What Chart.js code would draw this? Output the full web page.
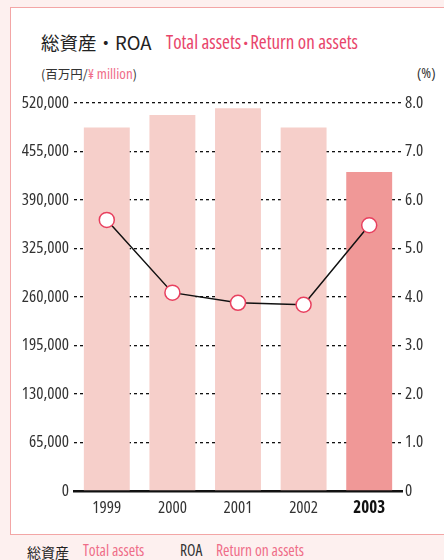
<!DOCTYPE html>
<html><head><meta charset="utf-8">
<script src="https://cdn.jsdelivr.net/npm/chart.js@4/dist/chart.umd.min.js"></script>
<style>
html,body{margin:0;padding:0;}
body{width:444px;height:560px;background:#fdf0ef;position:relative;overflow:hidden;font-family:"Noto Sans CJK JP","Noto Sans",sans-serif;}
#panel{position:absolute;left:10px;top:7px;width:440px;height:526px;background:#fff;border:1.5px solid #f3a6a6;border-right:none;}
.t{position:absolute;white-space:nowrap;}
.nar{font-family:"Open Sans",sans-serif;font-stretch:75%;}
canvas{position:absolute;left:0;top:0;}
</style></head><body>
<div id="panel"></div>
<div class="t" style="left:41px;top:30px;font-size:18.5px;color:#222;line-height:24px;">総資産・ROA</div>
<div class="t nar" style="left:166px;top:30px;font-size:19px;color:#e8456b;line-height:24px;">Total assets<span style="font-family:'Noto Sans CJK JP';font-size:15px;margin:0 -3px;">・</span>Return on assets</div>
<div class="t" style="left:41px;top:65px;font-size:12.5px;color:#333;line-height:17px;">(百万円/<span class="nar" style="color:#ef6d88;font-size:15px;">¥ million</span>)</div>
<div class="t nar" style="left:417px;top:64px;font-size:15px;color:#333;line-height:17px;">(%)</div>
<div class="t" style="left:27px;top:543px;font-size:14px;color:#222;line-height:18px;">総資産</div>
<div class="t nar" style="left:83px;top:541px;font-size:15.5px;color:#ef6d88;line-height:18px;">Total assets</div>
<div class="t nar" style="left:180px;top:541px;font-size:15.5px;color:#333;line-height:18px;">ROA</div>
<div class="t nar" style="left:216px;top:541px;font-size:15.5px;color:#ef6d88;line-height:18px;">Return on assets</div>
<canvas id="c" width="444" height="560"></canvas>
<script>
const categories = ["1999","2000","2001","2002","2003"];
const totalAssets = [487000, 504000, 513000, 487000, 427500];
const roa = [5.59, 4.09, 3.88, 3.84, 5.48];
const leftTicks = [0,65000,130000,195000,260000,325000,390000,455000,520000];
const rightTicks = [0,1,2,3,4,5,6,7,8];

const NARROW = '"Open Sans",sans-serif';
new Chart(document.getElementById('c'), {
  data: {
    labels: categories,
    datasets: [
      {type:'line', label:'ROA', data: roa, yAxisID:'y1', order:0,
       borderColor:'#111', borderWidth:1.5, tension:0,
       pointRadius:7.5, pointBorderWidth:1.5, pointBorderColor:'#e8405f', pointBackgroundColor:'#fff'},
      {type:'bar', label:'Total assets', data: totalAssets, yAxisID:'y', order:1,
       backgroundColor: categories.map((c,i)=> i===4 ? '#f09897' : '#f6cfca'),
       categoryPercentage:0.7, barPercentage:1.0}
    ]
  },
  options: {
    responsive:false, animation:false,
    layout:{padding:{left:0,right:0,top:103,bottom:39}},
    plugins:{legend:{display:false}, tooltip:{enabled:false}},
    scales:{
      x:{
        grid:{display:false, drawTicks:false},
        border:{display:true, color:'#111', width:2.5},
        ticks:{padding:7, color:(ctx)=> ctx.index===4 ? '#111' : '#333',
          font:(ctx)=> ({family:NARROW, size:17, weight: ctx.index===4 ? 'bold condensed' : 'condensed'})},
        afterFit:(s)=>{s.height=30;}
      },
      y:{
        position:'left', min:0, max:520000,
        afterBuildTicks:(s)=>{s.ticks = leftTicks.map(v=>({value:v}));},
        grid:{color:'#111', lineWidth:1.3, drawTicks:false},
        border:{display:false, dash:[3,3]},
        ticks:{padding:5, color:'#333', font:{family:NARROW, size:17, weight:'condensed'},
          callback:(v)=> v.toLocaleString('en-US')},
        afterFit:(s)=>{s.width=74;}
      },
      y1:{
        position:'right', min:0, max:8,
        afterBuildTicks:(s)=>{s.ticks = rightTicks.map(v=>({value:v}));},
        grid:{display:false, drawTicks:false},
        border:{display:false},
        ticks:{padding:3, color:'#333', font:{family:NARROW, size:17, weight:'condensed'},
          callback:(v)=> v===0 ? '0' : v.toFixed(1)},
        afterFit:(s)=>{s.width=42;}
      }
    }
  }
});
</script>
</body></html>
